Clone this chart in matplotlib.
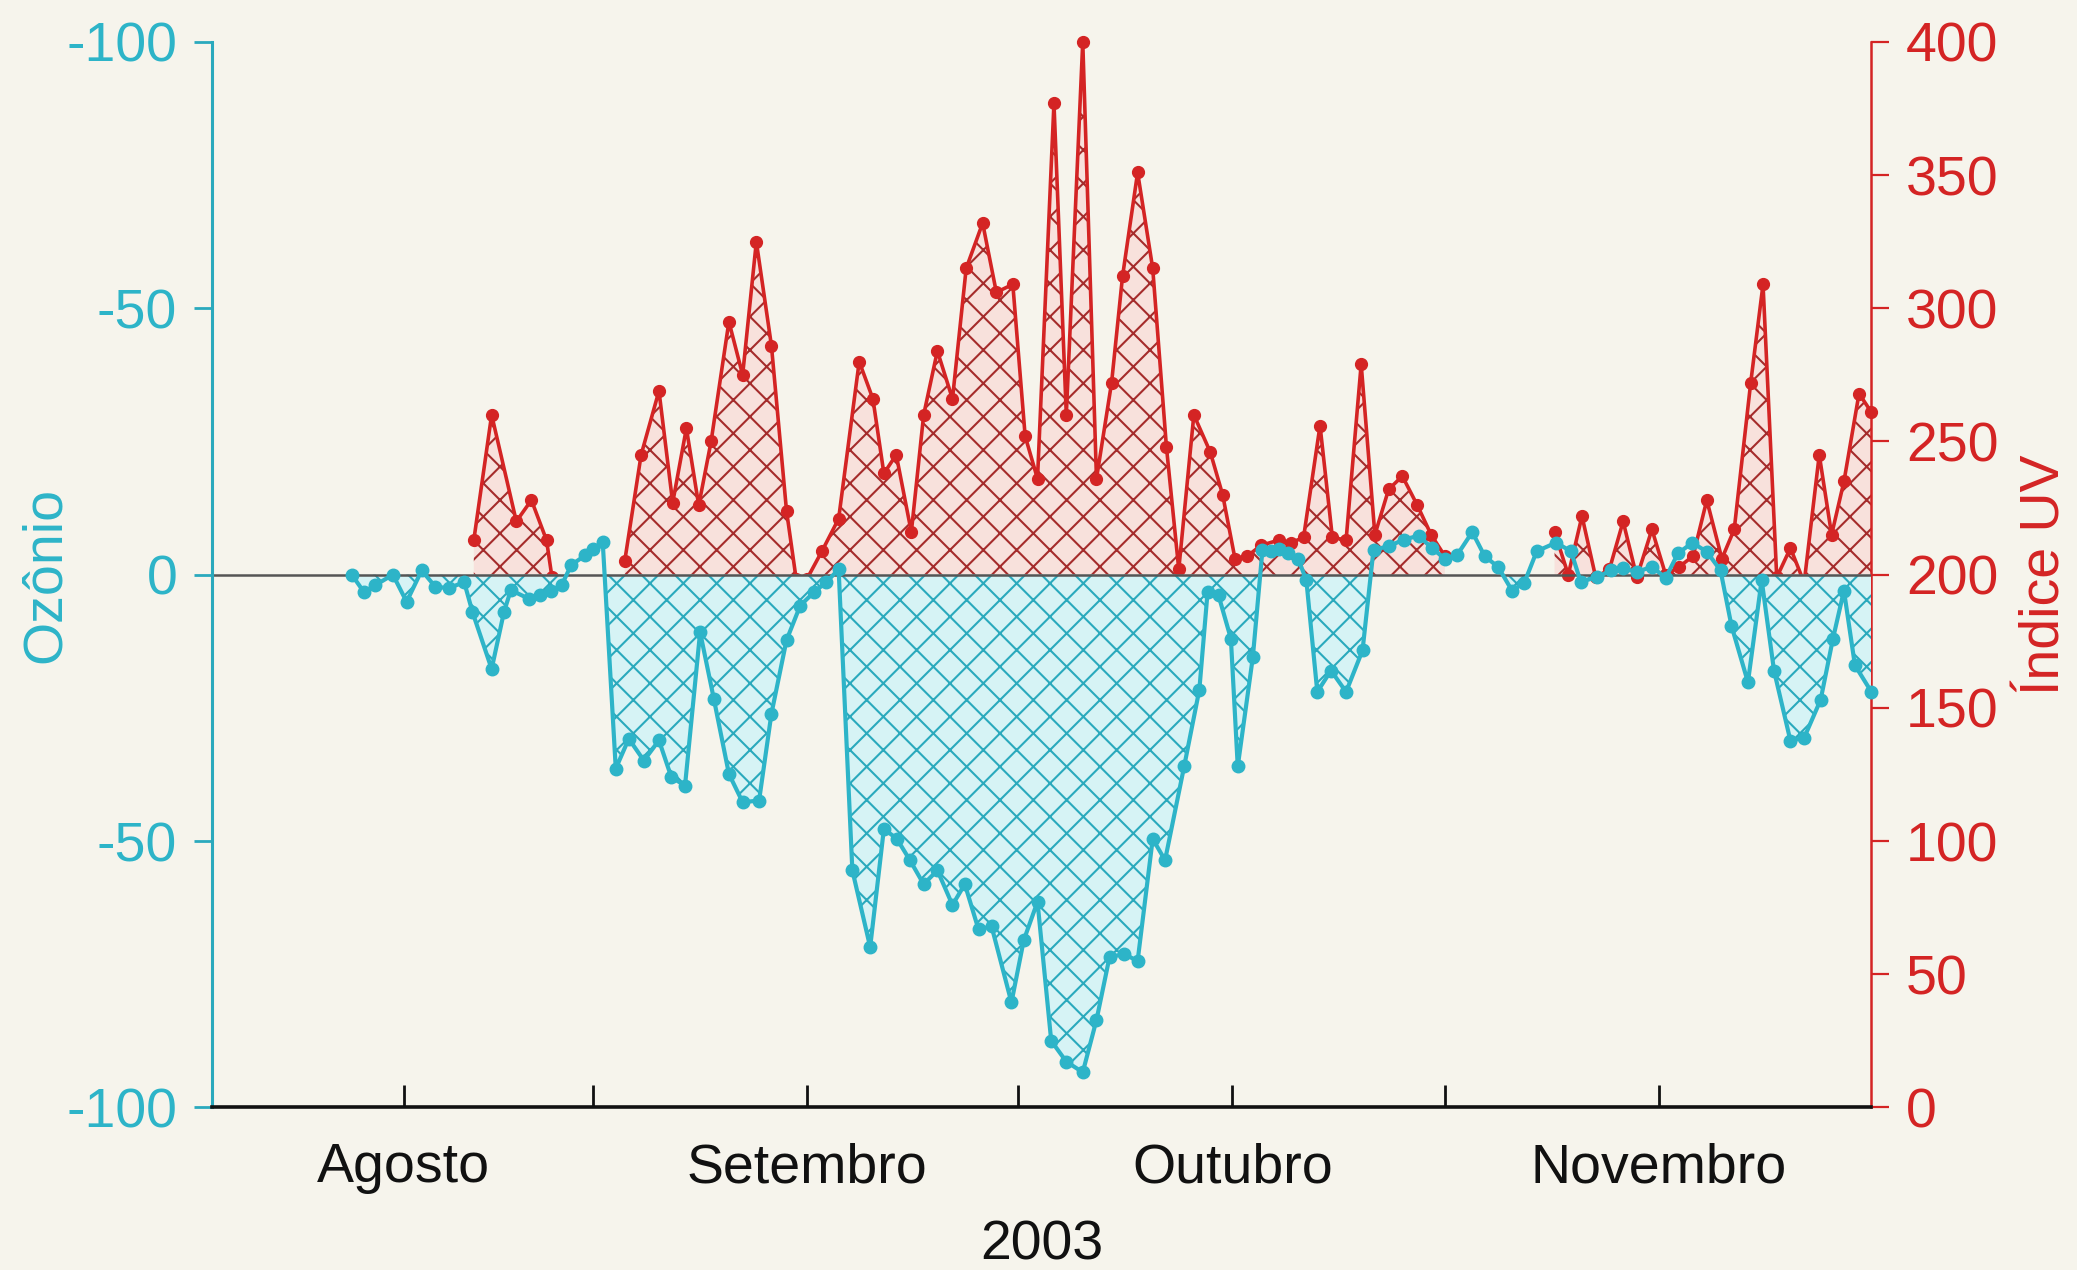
import matplotlib.pyplot as plt
import numpy as np

plt.rcParams['font.family'] = ['Liberation Sans Narrow', 'Liberation Sans', 'DejaVu Sans']
plt.rcParams['hatch.linewidth'] = 1.5

# dias (contados desde o inicio do eixo) e valores
oz_x = [10.2, 11.1, 11.9, 13.2, 14.2, 15.3, 16.3, 17.3, 18.4, 19.0, 20.4, 21.3, 21.8, 23.1,
        23.9, 24.7, 25.5, 26.2, 27.2, 27.8, 28.5, 29.45, 30.4, 31.5, 32.6, 33.5, 34.5, 35.6,
        36.6, 37.7, 38.7, 39.9, 40.8, 41.9, 42.9, 43.9, 44.8, 45.7, 46.7, 48.0, 49.0, 49.95,
        50.9, 51.9, 52.9, 54.0, 54.9, 55.9, 56.85, 58.3, 59.2, 60.2, 61.2, 62.3, 63.5, 64.5,
        65.45, 66.5, 67.5, 68.6, 69.5, 70.9, 72.0, 72.6, 73.4, 74.3, 74.8, 75.9, 76.6, 77.2,
        77.8, 78.5, 79.2, 79.8, 80.6, 81.6, 82.7, 83.9, 84.7, 85.8, 86.9, 88.0, 88.95, 89.9,
        90.8, 91.9, 92.8, 93.8, 94.8, 95.7, 96.6, 98.0, 99.1, 99.8, 101.0, 102.0, 102.9, 103.9,
        105.0, 106.0, 106.9, 107.95, 109.0, 110.0, 110.8, 112.0, 113.0, 113.9, 115.1, 116.1,
        117.3, 118.2, 119.0, 119.8, 121.0]
ozonio = [0, -3.3, -2, 0, -5.1, 0.8, -2.3, -2.5, -1.4, -7, -17.7, -7, -2.9, -4.5,
          -3.9, -3, -2, 1.8, 3.6, 4.9, 6.1, -36.4, -30.8, -34.9, -31.1, -38, -39.6, -10.8,
          -23.3, -37.4, -42.7, -42.4, -26.1, -12.3, -5.8, -3.3, -1.4, 1, -55.5, -69.9, -47.7, -49.6,
          -53.6, -58.1, -55.5, -62, -58.1, -66.6, -66, -80.3, -68.6, -61.4, -87.5, -91.4, -93.4, -83.6,
          -71.8, -71.2, -72.5, -49.6, -53.6, -35.9, -21.6, -3.3, -3.9, -12, -36, -15.5, 4.6, 4.5,
          4.9, 4, 3, -1, -22, -18, -22, -14.2, 4.7, 5.3, 6.6, 7.3, 5, 3,
          3.7, 8, 3.5, 1.4, -3, -1.5, 4.4, 6, 4.4, -1.3, -0.5, 0.8, 1.2, 0.5,
          1.5, -0.6, 4, 6, 4.3, 0.8, -9.6, -20.2, -1, -18, -31.2, -30.6,
          -23.5, -12, -3, -17, -22]

uv_x = [19.1, 20.4, 22.2, 23.3, 24.4, 24.8, 27.0, 30.1, 31.3, 32.6, 33.6, 34.6, 35.5, 36.4,
        37.7, 38.7, 39.7, 40.8, 41.9, 42.6, 43.4, 44.5, 45.7, 47.2, 48.2, 49.0, 49.9, 51.0,
        51.9, 52.9, 54.0, 55.0, 56.2, 57.2, 58.4, 59.3, 60.2, 61.4, 62.3, 63.5, 64.5, 65.6,
        66.4, 67.5, 68.6, 69.6, 70.5, 71.6, 72.8, 73.7, 74.6, 75.5, 76.5, 77.8, 78.7, 79.6,
        80.8, 81.7, 82.7, 83.8, 84.8, 85.8, 86.8, 87.9, 88.9, 89.9, 94.0, 97.9, 98.9, 99.9,
        100.9, 101.9, 102.9, 103.9, 105.0, 106.0, 107.0, 108.0, 109.0, 110.1, 111.0, 112.2, 113.1, 114.1,
        115.1, 116.1, 117.2, 118.1, 119.0, 120.1, 121.0]
indice_uv = [213, 260, 220, 228, 213, 199, np.nan, 205, 245, 269, 227, 255, 226, 250,
             295, 275, 325, 286, 224, 198.5, 198.5, 209, 221, 280, 266, 238, 245, 216,
             260, 284, 266, 315, 332, 306, 309, 252, 236, 377, 260, 400, 236, 272,
             312, 351, 315, 248, 202, 260, 246, 230, 206, 207, 211, 213, 212, 214,
             256, 214, 213, 279, 215, 232, 237, 226, 215, 207, np.nan, 216, 200, 222,
             199, 202, 220, 199, 217, 200, 203, 207, 228, 206, 217, 272, 309, 199,
             210, 197, 245, 215, 235, 268, 261]

tick_pos = [14.0, 27.8, 43.4, 58.8, 74.4, 89.9, 105.5]
tick_labels = ['Agosto', '', 'Setembro', '', 'Outubro', '', 'Novembro']
oz_ticks = [-100, -50, 0, 50, 100]
oz_tick_labels = ['-100', '-50', '0', '-50', '-100']
uv_ticks = [0, 50, 100, 150, 200, 250, 300, 350, 400]

bg = '#f6f4ec'
cyan = '#2db4c8'
cyan_dark = '#2aa9bd'
cyan_fill = '#d6f3f5'
red = '#d42424'
red_hatch = '#a52c2c'
red_fill = '#f8e1dc'

oz_x = np.array(oz_x)
ozonio = np.array(ozonio)
uv_x = np.array(uv_x)
indice_uv = np.array(indice_uv)

fig = plt.figure(figsize=(20.77, 12.70), dpi=100, facecolor=bg)
ax = fig.add_axes([0.102, 0.128, 0.799, 0.839])
ax2 = ax.twinx()
ax.set_zorder(2)
ax2.set_zorder(1)
ax.patch.set_visible(False)
ax2.patch.set_visible(False)

# indice UV (eixo direito)
ax2.fill_between(uv_x, indice_uv, 200, where=indice_uv > 200, interpolate=True,
                 facecolor=red_fill, edgecolor=red_hatch, hatch='x', linewidth=0)
ax2.plot(uv_x, indice_uv, '-o', color=red, lw=2.6, ms=8.5, clip_on=False)

# ozonio (eixo esquerdo)
ax.fill_between(oz_x, ozonio, 0, where=ozonio < 0, interpolate=True,
                facecolor=cyan_fill, edgecolor=cyan_dark, hatch='x', linewidth=0, zorder=1)
ax.axhline(0, color='#555555', lw=1.8, zorder=2)
ax.plot(oz_x, ozonio, '-o', color=cyan, lw=3.0, ms=9, zorder=3, clip_on=False)

ax.set_xlim(0, 121)
ax.set_ylim(-100, 100)
ax2.set_ylim(0, 400)

ax.set_xticks(tick_pos)
ax.set_xticklabels(tick_labels)
ax.set_yticks(oz_ticks)
ax.set_yticklabels(oz_tick_labels)
ax2.set_yticks(uv_ticks)

for s in ['top', 'right']:
    ax.spines[s].set_visible(False)
for s in ['top', 'left', 'bottom']:
    ax2.spines[s].set_visible(False)
ax.spines['left'].set_color(cyan_dark)
ax.spines['left'].set_linewidth(2.2)
ax.spines['bottom'].set_color('#111111')
ax.spines['bottom'].set_linewidth(2.6)
ax2.spines['right'].set_color(red)
ax2.spines['right'].set_linewidth(1.8)

ax.tick_params(axis='y', colors=cyan_dark, labelcolor=cyan, length=13, width=2, pad=12, labelsize=40)
ax.tick_params(axis='x', direction='in', colors='#111111', length=16, width=2, pad=25, labelsize=40)
ax2.tick_params(axis='y', colors=red, length=13, width=1.6, pad=12, labelsize=40)

ax.set_ylabel('Ozônio', color=cyan, fontsize=40, labelpad=-4)
ax2.set_ylabel('Índice UV', color=red, fontsize=40, labelpad=15)
ax.set_xlabel('2003', fontsize=40, labelpad=18, color='#111111')

fig.savefig('out.png', dpi=100, facecolor=bg)
